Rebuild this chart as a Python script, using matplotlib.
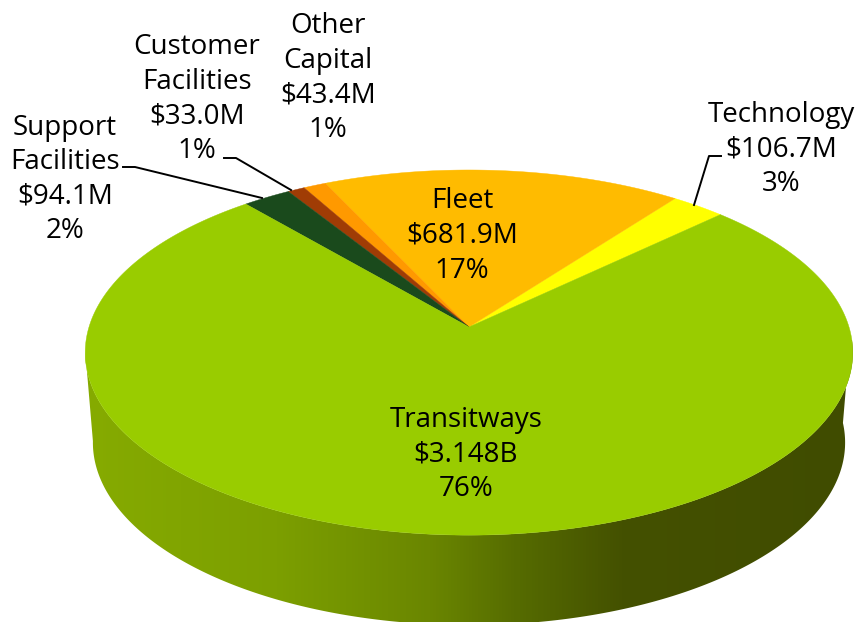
import numpy as np, matplotlib.pyplot as plt
from matplotlib.colors import LinearSegmentedColormap
from matplotlib.patches import Polygon

# ---------- DATA ----------
categories = ["Technology", "Fleet", "Other\nCapital", "Customer\nFacilities", "Support\nFacilities", "Transitways"]
amounts = [106.7, 681.9, 43.4, 33.0, 94.1, 3148.0]
amount_labels = ["$106.7M", "$681.9M", "$43.4M", "$33.0M", "$94.1M", "$3.148B"]
pct_labels = ["3%", "17%", "1%", "1%", "2%", "76%"]
colors = ["#FFFF00", "#FFBB00", "#FF9900", "#A03C05", "#1A4A1C", "#99CC00"]

# ---------- GEOMETRY (pixels) ----------
CX, CY = 469, 327
A, B, K = 380, 179, 0.14
START = 45
DEPTH = 90
WARP = 1.5  # small angle correction for the 3d perspective

def project(theta):
    t = np.radians(theta + WARP * np.sin(np.radians(2 * (theta - 90))))
    w = 1 + K * np.sin(t)
    return CX + A * np.cos(t) / w, CY - B * np.sin(t) / w

fig = plt.figure(figsize=(8.56, 6.22), dpi=100)
ax = fig.add_axes([0, 0, 1, 1])

# ---------- SIDE WALL ----------
t = np.linspace(-172, -2, 400)  # front half, left to right
tx, ty = project(t)
bx = CX + (tx - CX) * 0.98
by = ty + DEPTH
wall = np.column_stack([np.r_[tx, bx[::-1]], np.r_[ty, by[::-1]]])
cmap = LinearSegmentedColormap.from_list("wall", [
    (0.0, "#86AB00"), (0.25, "#7C9F00"), (0.45, "#6A8600"), (0.56, "#566C00"),
    (0.70, "#445100"), (1.0, "#404C00")])
grad = np.linspace(0, 1, 512).reshape(1, -1)
im = ax.imshow(grad, cmap=cmap, extent=[85, 853, 622, 340], aspect="auto", zorder=1)
clip = Polygon(wall, closed=True, transform=ax.transData)
im.set_clip_path(clip)

# ---------- TOP FACE ----------
edges = START + np.r_[0, np.cumsum(amounts)] / sum(amounts) * 360
for i, c in enumerate(colors):
    th = np.linspace(edges[i], edges[i + 1], 300)
    x, y = project(th)
    ax.fill(np.r_[CX, x], np.r_[CY, y], color=c, lw=0.3, zorder=2)

# ---------- LABELS ----------
label_x = [781, 462, 328, 197, 65, 466]
label_y = [149.5, 236, 78, 99, 179.5, 454.5]
for i, name in enumerate(categories):
    s = name + "\n" + amount_labels[i] + "\n" + pct_labels[i]
    ax.text(label_x[i], label_y[i], s, ha="center", va="center", fontsize=20,
            family="Open Sans", color="black", linespacing=1.31, zorder=4)

# leader lines
ax.plot([123, 135, 262], [167, 167, 198], color="black", lw=1.4, zorder=3)
ax.plot([224, 236, 291], [158, 158, 190], color="black", lw=1.4, zorder=3)
ax.plot([721, 709, 694], [156, 156, 205], color="black", lw=1.4, zorder=3)

ax.set_xlim(0, 856)
ax.set_ylim(622, 0)
ax.axis("off")
fig.savefig("out.png", dpi=100)
